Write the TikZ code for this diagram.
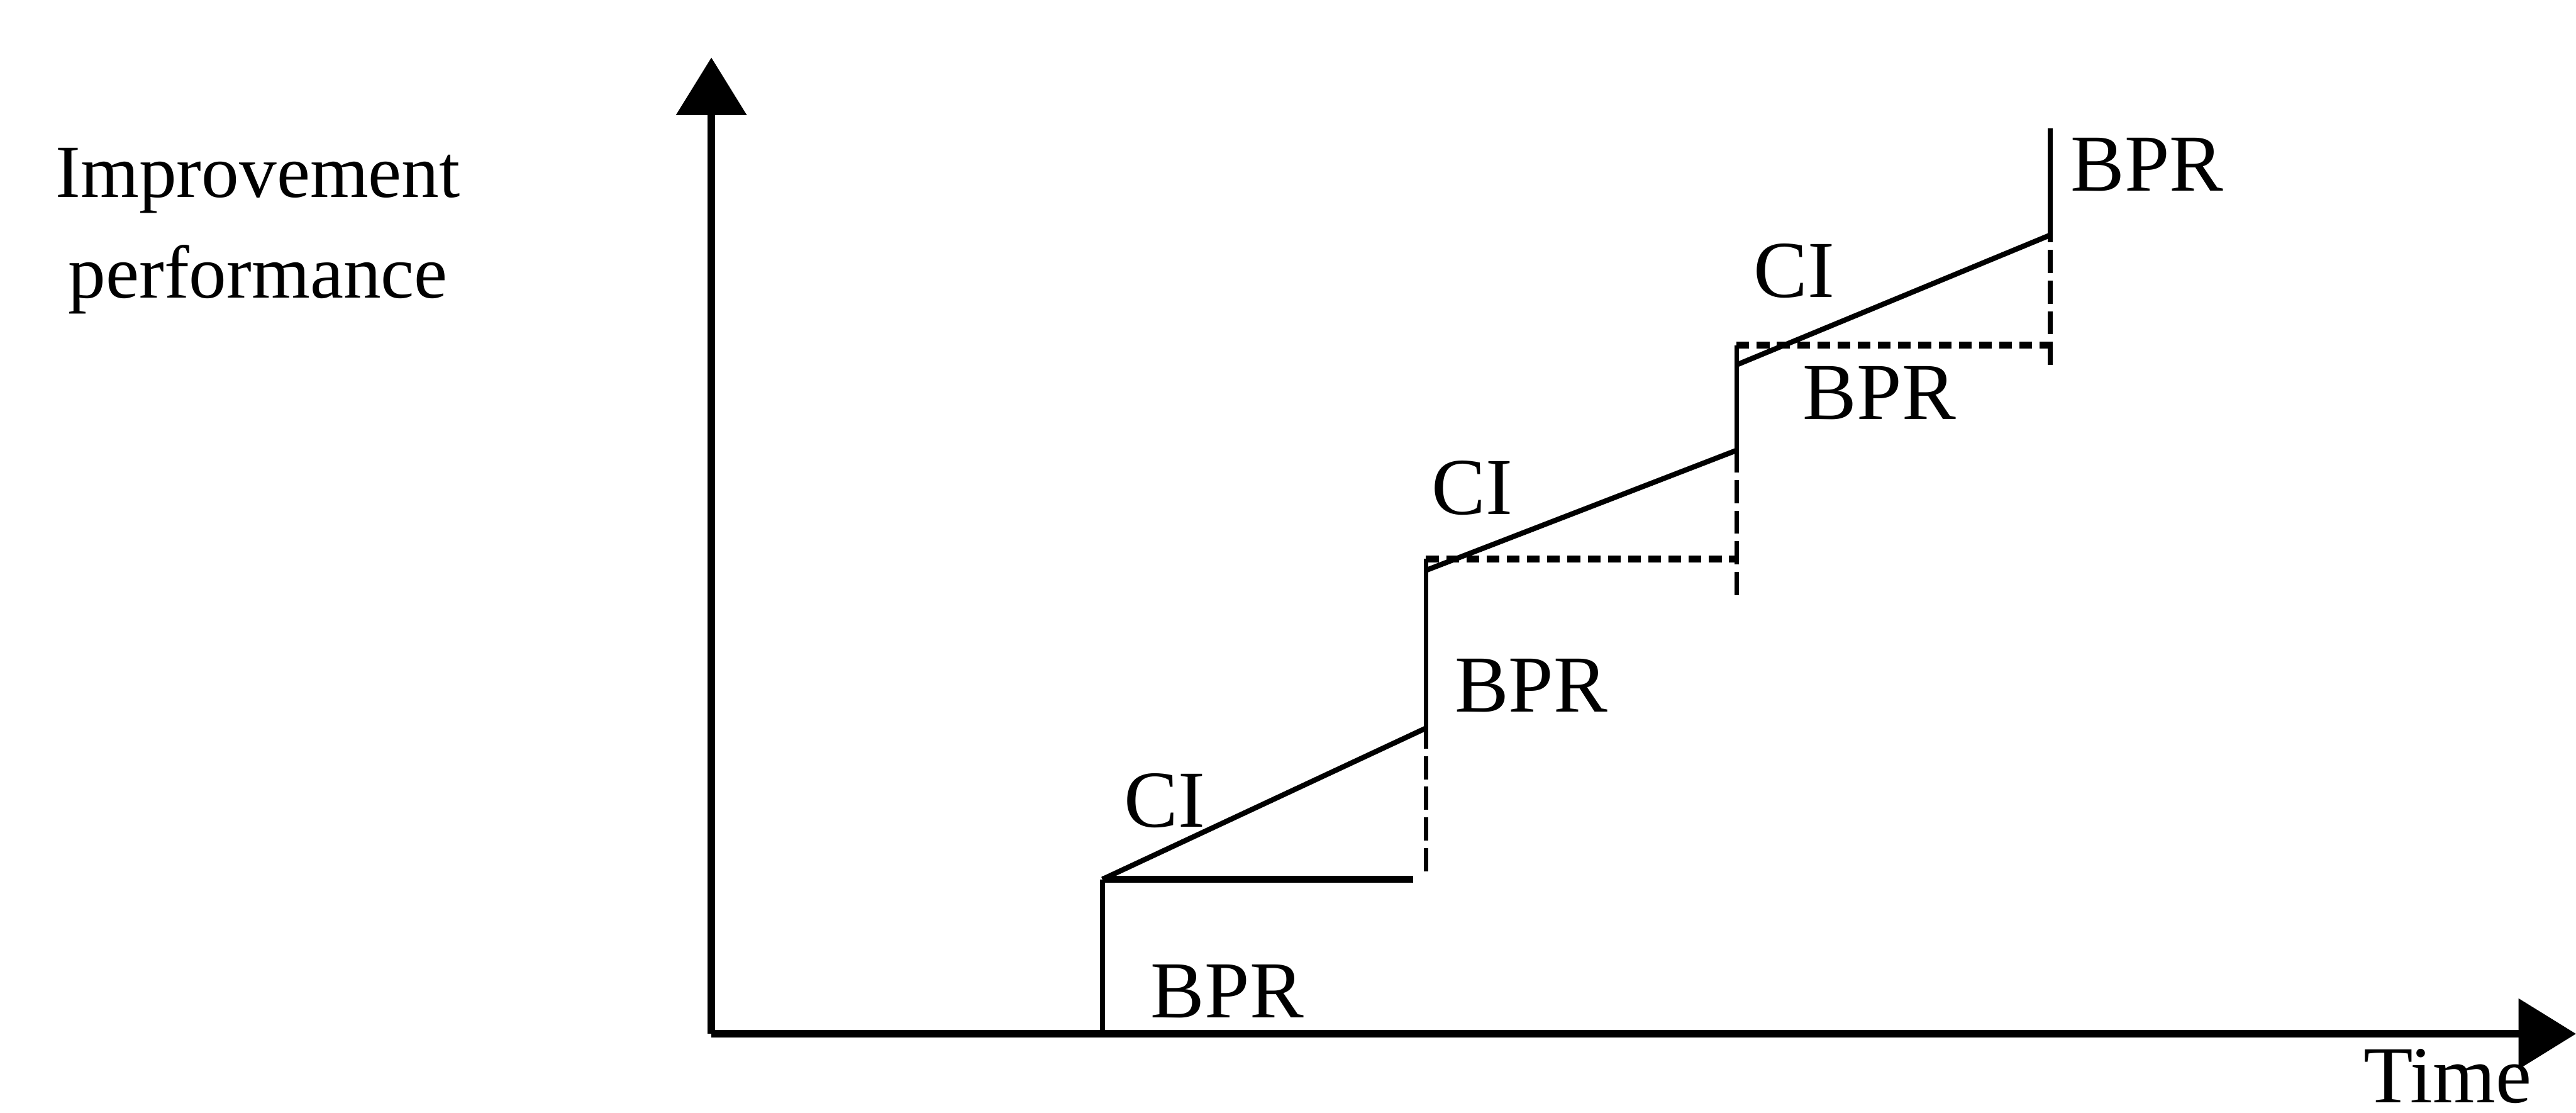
\documentclass[tikz,border=0pt]{standalone}
\usepackage{fontspec}
\setmainfont{Liberation Serif}
\usetikzlibrary{positioning,arrows.meta}

\begin{document}
\begin{tikzpicture}[every node/.style={font=\fontsize{14}{17}\selectfont,inner sep=0pt},
  axis/.style={line width=1.3pt,-{Triangle[length=0.35cm,width=0.42cm]}},
  jump/.style={line width=0.8pt},
  trend/.style={line width=0.9pt},
  base/.style={line width=1.2pt,dash pattern=on 2.2pt off 1.3pt},
  drop/.style={line width=0.8pt,dash pattern=on 4pt off 1.3pt},
  ylabel/.style={font=\fontsize{13}{16}\selectfont}]
\useasboundingbox (0,0) rectangle (15.68,6.77);
\coordinate (o) at (4.33,0.48);
\coordinate (ytip) at (4.33,6.42);
\coordinate (xtip) at (15.68,0.48);

\coordinate (a1) at (6.71,0.48);
\coordinate (b1) at (6.71,1.42);
\coordinate (h1) at (8.60,1.42);
\coordinate (c1) at (8.68,2.34);
\coordinate (d1) at (8.68,1.47);

\coordinate (b2) at (8.68,3.37);
\coordinate (h2) at (10.57,3.37);
\coordinate (s2) at (8.68,3.30);
\coordinate (c2) at (10.57,4.03);
\coordinate (d2) at (10.57,3.15);

\coordinate (b3) at (10.57,4.67);
\coordinate (h3) at (12.48,4.67);
\coordinate (s3) at (10.57,4.55);
\coordinate (c3) at (12.48,5.34);
\coordinate (d3) at (12.48,4.55);
\coordinate (t3) at (12.48,5.99);

\draw[axis] (o) -- (ytip);
\draw[axis] (o) -- (xtip);

\draw[jump] (a1) -- (b1);
\draw[line width=1.2pt] (b1) -- (h1);
\draw[trend] (b1) -- (c1);
\draw[drop] (d1) -- (c1);

\draw[jump] (c1) -- (b2);
\draw[base] (b2) -- (h2);
\draw[trend] (s2) -- (c2);
\draw[drop] (d2) -- (c2);

\draw[jump] (c2) -- (b3);
\draw[base] (b3) -- (h3);
\draw[trend] (s3) -- (c3);
\draw[drop] (d3) -- (c3);
\draw[jump] (c3) -- (t3);

\node (ci1) at (7.09,1.90) {CI};
\node (bpr1) at (7.47,0.74) {BPR};
\node (ci2) at (8.96,3.80) {CI};
\node (bpr2) at (9.32,2.60) {BPR};
\node (ci3) at (10.92,5.12) {CI};
\node (bpr3) at (11.44,4.38) {BPR};
\node (bpr4) at (13.07,5.77) {BPR};
\node (time) at (14.90,0.22) {Time};
\node[ylabel] (imp) at (1.57,5.67) {Improvement};
\node[ylabel] (perf) at (1.57,5.07) {performance};
\end{tikzpicture}
\end{document}
